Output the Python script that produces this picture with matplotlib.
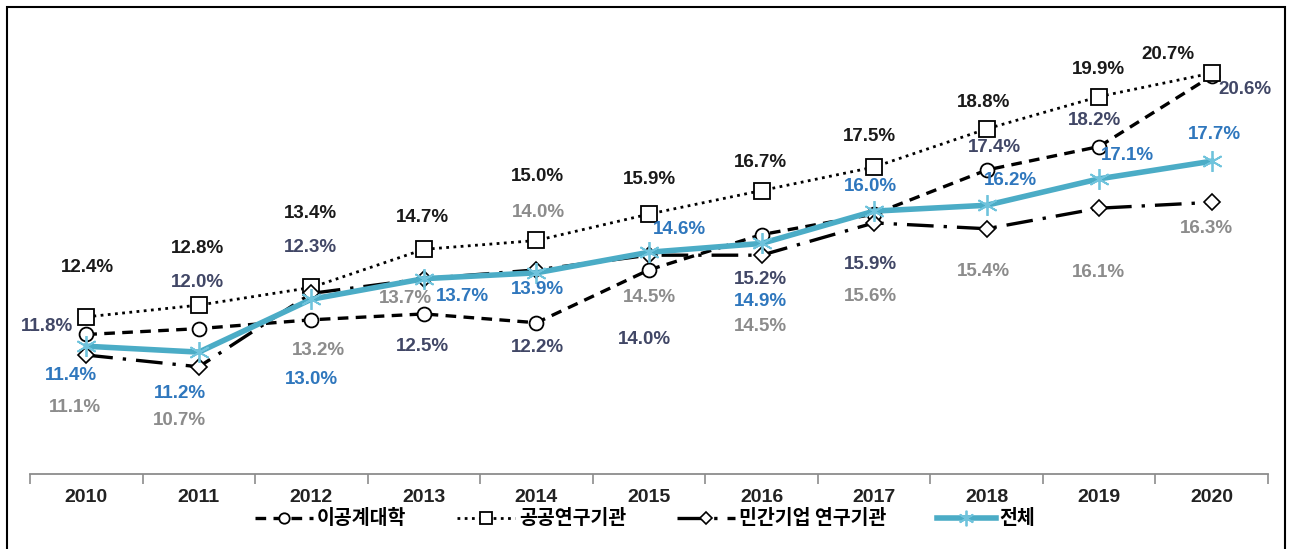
#!/usr/bin/env python3
"""Share of R&D researchers by institution type, 2010-2020 (line chart with value labels)."""
import matplotlib.pyplot as plt
from matplotlib.patches import Rectangle

years = ["2010", "2011", "2012", "2013", "2014", "2015",
         "2016", "2017", "2018", "2019", "2020"]
univ = [11.8, 12.0, 12.3, 12.5, 12.2, 14.0, 15.2, 15.9, 17.4, 18.2, 20.6]
public = [12.4, 12.8, 13.4, 14.7, 15.0, 15.9, 16.7, 17.5, 18.8, 19.9, 20.7]
private = [11.1, 10.7, 13.2, 13.7, 14.0, 14.5, 14.5, 15.6, 15.4, 16.1, 16.3]
total = [11.4, 11.2, 13.0, 13.7, 13.9, 14.6, 14.9, 16.0, 16.2, 17.1, 17.7]
names = ["이공계대학", "공공연구기관", "민간기업 연구기관", "전체"]

# label offsets in pixels (dx, dy) from each point
off_univ = [(-39, 8), (-1, 46), (-1, 72), (-1, -33), (1, -25), (-5, -70),
            (-1, -45), (-4, -50), (8, 23), (-5, 26), (33, -13)]
off_public = [(1, 49), (-1, 57), (-1, 74), (-1, 32), (1, 64), (0, 35),
              (-1, 28), (-5, 31), (-3, 26), (-1, 27), (-44, 19)]
off_private = [(-11, -52), (-19, -54), (7, -57), (-18, -20), (2, 57), (0, -42),
               (-1, -71), (-4, -74), (-3, -43), (-1, -64), (-5, -26)]
off_total = [(-15, -29), (-19, -41), (0, -80), (39, -18), (1, -17), (30, 23),
             (-1, -58), (-4, 25), (24, 25), (28, 23), (3, 27)]

plt.rcParams["font.family"] = ["Liberation Sans", "Noto Sans CJK KR", "DejaVu Sans"]

fig = plt.figure(figsize=(12.9, 5.49), dpi=100)
ax = fig.add_axes([30 / 1290, 75 / 549, 1238 / 1290, 467 / 549])
xs = list(range(len(years)))

teal = "#4bacc6"
ax.plot(xs, univ, color="black", lw=2.4, ls=(0, (3.2, 2.2)), marker="o",
        ms=10, mfc="white", mec="black", mew=1.3, label=names[0], zorder=3)
ax.plot(xs, public, color="black", lw=2.0, ls=(0, (1, 1.6)), marker="s",
        ms=11, mfc="white", mec="black", mew=1.3, label=names[1], zorder=3)
ax.plot(xs, private, color="black", lw=2.4, ls=(0, (8, 3, 1, 3)), marker="D",
        ms=8, mfc="white", mec="black", mew=1.2, label=names[2], zorder=3)
ax.plot(xs, total, color=teal, lw=4.0, marker=(6, 2, 0), ms=15,
        mec="#6fc3dc", mew=1.3, label=names[3], zorder=4)

series = [
    (univ, off_univ, "#414766"),
    (public, off_public, "#1a1a1a"),
    (private, off_private, "#8c8c8c"),
    (total, off_total, "#2f77bd"),
]
for vals, offs, col in series:
    for x, v, (dx, dy) in zip(xs, vals, offs):
        ax.annotate(f"{v:.1f}%", (x, v), xytext=(dx, dy),
                    textcoords="offset pixels", ha="center", va="center",
                    fontsize=13.5, fontweight="bold", color=col, zorder=5)

ax.set_xlim(-0.5, len(years) - 0.5)
ax.set_ylim(7.05, 22.95)
ax.set_yticks([])
for s in ("top", "right", "left"):
    ax.spines[s].set_visible(False)
ax.spines["bottom"].set_color("#8c8c8c")
ax.spines["bottom"].set_linewidth(1.3)
ax.set_xticks([i - 0.5 for i in range(len(years) + 1)])
ax.set_xticklabels([])
ax.tick_params(axis="x", which="major", length=7, color="#8c8c8c", width=1.2)
ax.set_xticks(xs, minor=True)
ax.set_xticklabels(years, minor=True, fontsize=14, fontweight="bold",
                   color="#222222")
ax.tick_params(axis="x", which="minor", length=0, pad=11)

fig.legend(loc="center", bbox_to_anchor=(0.5, 30 / 549), ncol=4, frameon=False,
           handlelength=3.0, columnspacing=2.6, handletextpad=0.2,
           markerscale=0.75,
           prop={"family": ["Noto Sans CJK KR", "DejaVu Sans"], "size": 14,
                 "weight": "bold"})

fig.patches.append(Rectangle((7 / 1290, -0.02), 1278 / 1290, 1.02 - 7 / 549,
                             transform=fig.transFigure, fill=False,
                             edgecolor="black", lw=1.5))

fig.savefig("out.png", dpi=100)
